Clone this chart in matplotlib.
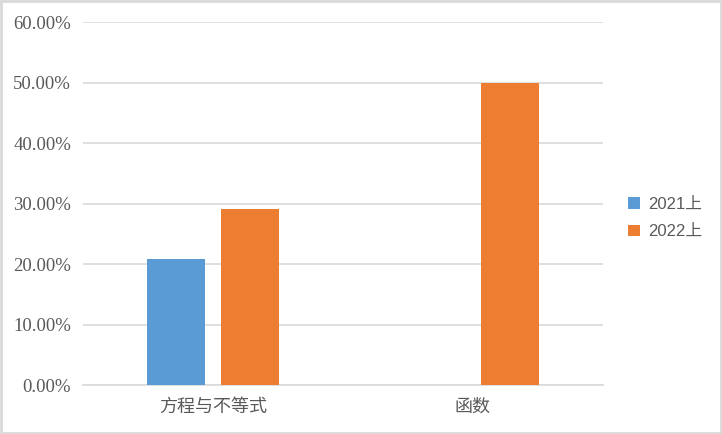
import numpy as np
import matplotlib.pyplot as plt
from matplotlib.patches import Rectangle
from matplotlib.ticker import FuncFormatter

categories = ['方程与不等式', '函数']
series_names = ['2021上', '2022上']
values_2021 = [20.83, 0.0]
values_2022 = [29.17, 50.0]
colors = ['#5B9BD5', '#ED7D31']

fig = plt.figure(figsize=(7.22, 4.34), dpi=100)
ax = fig.add_axes([0.115, 0.1129, 0.72, 0.8364])

x = np.arange(len(categories))
w = 0.223
off = 0.142
ax.bar(x - off, values_2021, width=w, color=colors[0], label=series_names[0], zorder=3)
ax.bar(x + off, values_2022, width=w, color=colors[1], label=series_names[1], zorder=3)

ax.set_xlim(-0.5, 1.5)
ax.set_ylim(0, 60)
ax.set_yticks(np.arange(0, 61, 10))
ax.yaxis.set_major_formatter(FuncFormatter(lambda v, p: '%.2f%%' % v))
ax.grid(axis='y', color='#D9D9D9', linewidth=1.2, zorder=0)
for s in ['top', 'right', 'left']:
    ax.spines[s].set_visible(False)
ax.spines['bottom'].set_color('#D9D9D9')
ax.spines['bottom'].set_linewidth(1.2)
ax.tick_params(length=0, colors='#595959')
ax.tick_params(axis='y', pad=8.5, labelsize=13.5, labelfontfamily='Liberation Serif')
ax.tick_params(axis='x', pad=9)
ax.set_xticks(x)
ax.set_xticklabels(categories, fontfamily=['Noto Sans CJK SC'], fontsize=13, color='#595959')

leg = ax.legend(loc='center left', bbox_to_anchor=(1.02, 0.46), frameon=False,
                prop={'family': ['Liberation Sans', 'Noto Sans CJK SC'], 'size': 12},
                handlelength=0.7, handleheight=0.7, handletextpad=0.5, labelspacing=0.75)
for t in leg.get_texts():
    t.set_color('#595959')

fig.patches.append(Rectangle((0.001, 0.002), 0.997, 0.995, transform=fig.transFigure,
                             fill=False, edgecolor='#D9D9D9', linewidth=2))

fig.savefig('out.png', dpi=100)
